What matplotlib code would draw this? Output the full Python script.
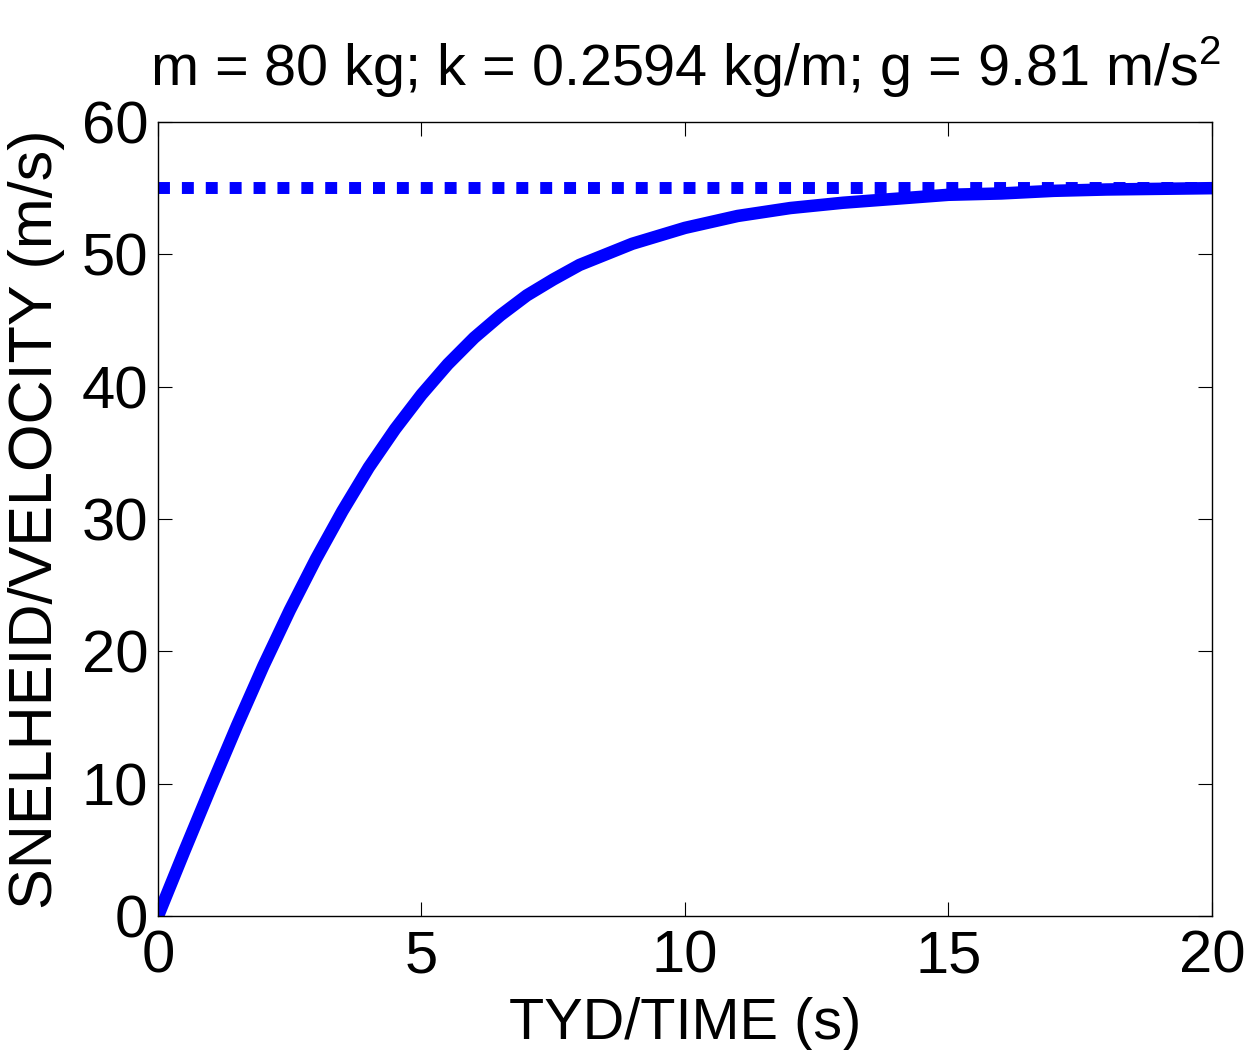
import matplotlib
matplotlib.use('Agg')
import matplotlib.pyplot as plt
import numpy as np

plt.rcParams['font.family'] = ['Liberation Sans', 'DejaVu Sans']
plt.rcParams['mathtext.fontset'] = 'custom'
plt.rcParams['mathtext.rm'] = 'Liberation Sans'
plt.rcParams['mathtext.default'] = 'regular'

# velocity
t = [0, 0.5, 1, 1.5, 2, 2.5, 3, 3.5, 4, 4.5, 5, 5.5, 6, 6.5, 7, 7.5, 8, 9, 10,
     11, 12, 13, 14, 15, 16, 17, 18, 19, 20]
v = [0, 4.9, 9.7, 14.4, 18.9, 23.1, 27.0, 30.6, 33.9, 36.8, 39.4, 41.7, 43.7,
     45.4, 46.9, 48.1, 49.2, 50.8, 52.0, 52.9, 53.5, 53.9, 54.2, 54.5, 54.6,
     54.8, 54.9, 54.95, 55.0]
v_term = 55.0
xticks = [0, 5, 10, 15, 20]
yticks = [0, 10, 20, 30, 40, 50, 60]

fig = plt.figure(figsize=(12.55, 10.5), dpi=100)
ax = fig.add_axes([0.1259, 0.1276, 0.8398, 0.7562])

ax.plot([0, 20], [v_term, v_term], color='#0000ff', lw=8.6,
        linestyle=(0, (1, 1)), solid_capstyle='butt', dash_capstyle='butt')
ax.plot(t, v, color='#0000ff', lw=9, solid_capstyle='butt')

ax.set_xlim(0, 20)
ax.set_ylim(0, 60)
ax.set_xticks(xticks)
ax.set_yticks(yticks)
ax.tick_params(direction='in', length=10, width=0.8, labelsize=43,
               top=True, right=True)
ax.tick_params(axis='x', pad=10)
ax.tick_params(axis='y', pad=7)
for s in ax.spines.values():
    s.set_linewidth(1.0)

ax.set_xlabel('TYD/TIME (s)', fontsize=41.5, labelpad=9)
ax.set_ylabel('SNELHEID/VELOCITY (m/s)', fontsize=44, labelpad=12)
ax.set_title('m = 80 kg; k = 0.2594 kg/m; g = 9.81 m/s$^{2}$', fontsize=41.5, pad=26)

fig.savefig('out.png', dpi=100)
